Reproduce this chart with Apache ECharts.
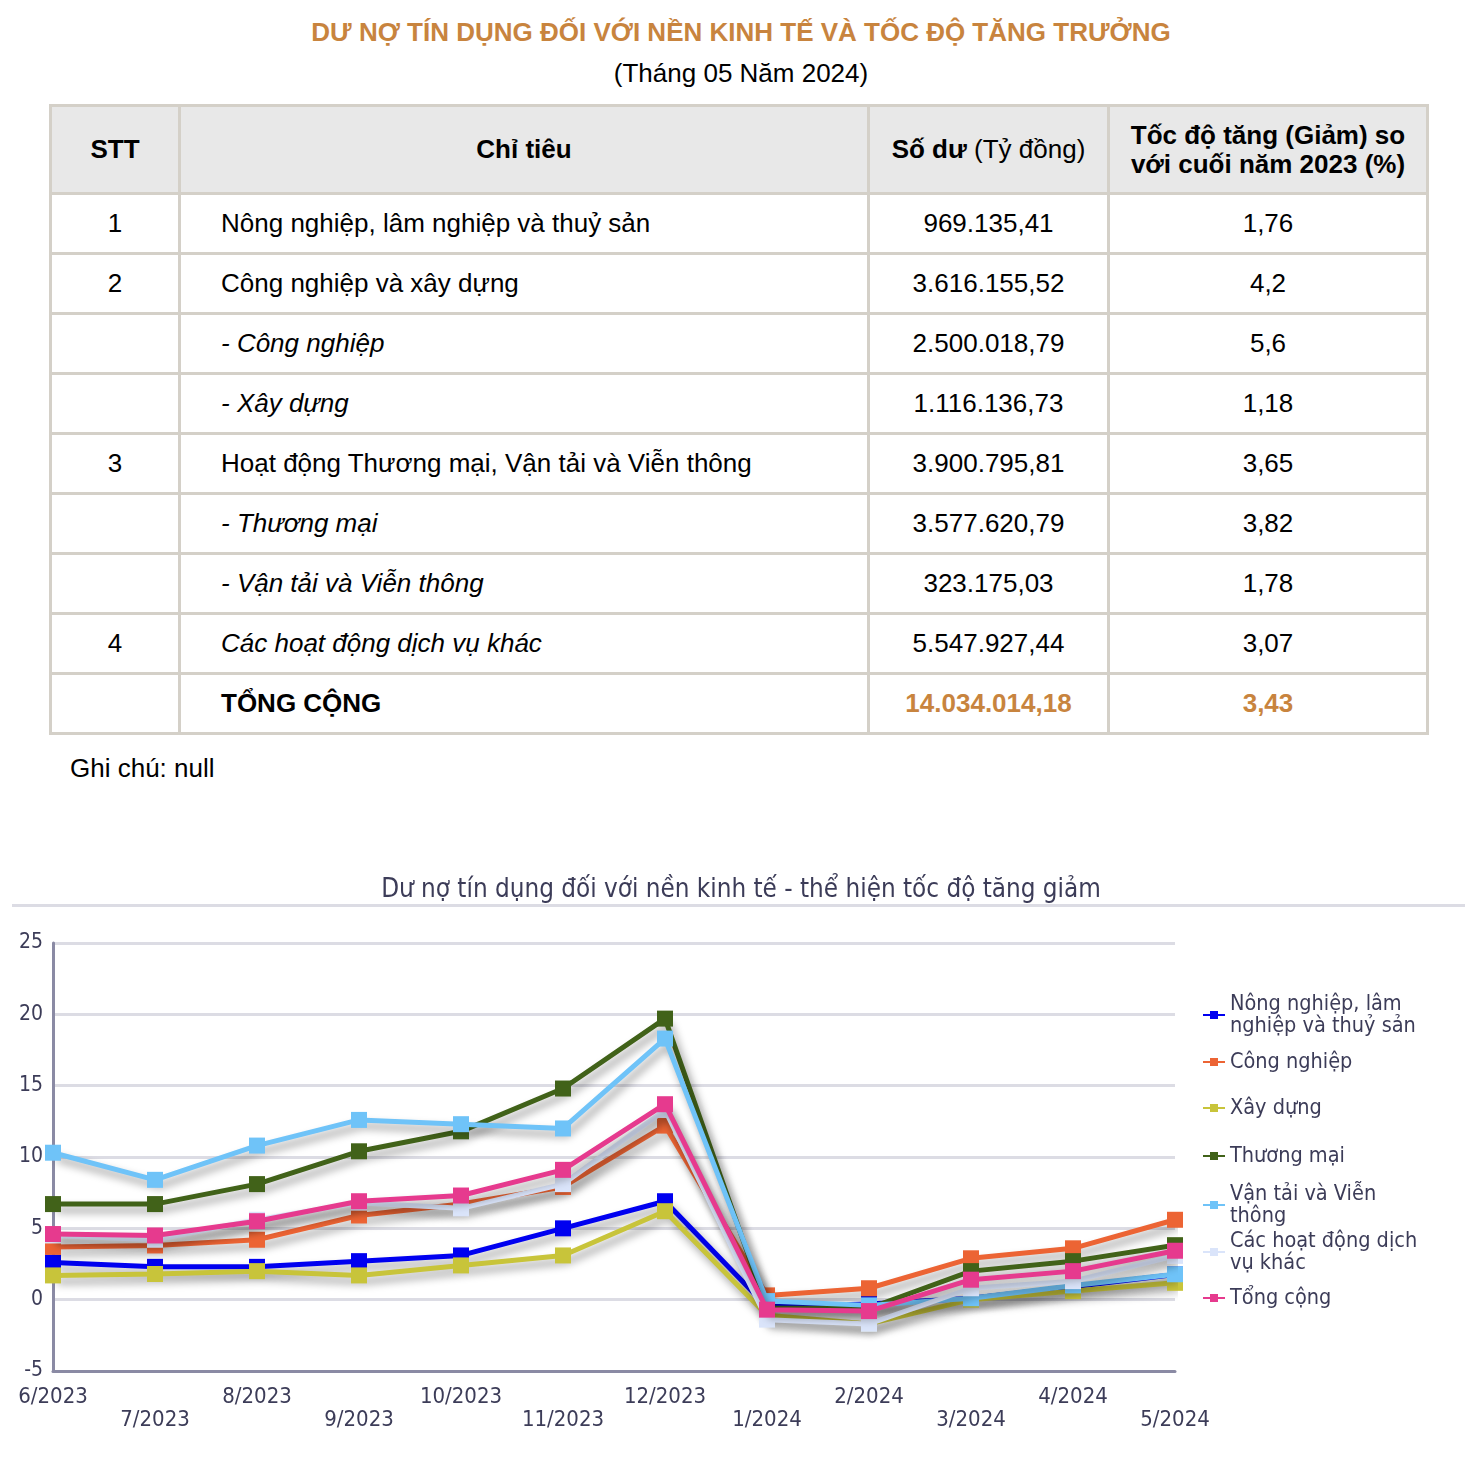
<!DOCTYPE html>
<html>
<head>
<meta charset="utf-8">
<script src="https://cdn.jsdelivr.net/npm/echarts@6/dist/echarts.min.js"></script>
<style>
  html, body { margin: 0; padding: 0; background: #fff; width: 1482px; height: 1474px; overflow: hidden; }
  body { position: relative; font-family: "Liberation Sans", Arial, sans-serif; color: #000; }
  #title { position: absolute; top: 16px; left: 0; width: 1482px; text-align: center; font-size: 26px; font-weight: bold; color: #c8843e; line-height: 32px; }
  #subtitle { position: absolute; top: 57px; left: 0; width: 1482px; text-align: center; font-size: 26px; line-height: 32px; }
  #tbl { position: absolute; top: 104px; left: 49px; border-collapse: collapse; font-size: 26px; }
  #tbl td { border: 3px solid #d4d0c8; padding: 0; }
  #tbl tr.hd td { background: #e8e8e8; font-weight: bold; height: 85px; text-align: center; line-height: 29px; }
  #tbl tr.rw td { height: 57px; }
  #tbl td.c0 { width: 126px; text-align: center; }
  #tbl td.c1 { width: 689px; text-align: left; padding-left: 40px; box-sizing: border-box; }
  #tbl tr.hd td.c1 { text-align: center; padding-left: 0; }
  #tbl td.c2 { width: 237px; text-align: center; }
  #tbl td.c3 { width: 316px; text-align: center; }
  #note { position: absolute; top: 753px; left: 70px; font-size: 26px; line-height: 30px; }
  #chart { position: absolute; top: 850px; left: 0; width: 1482px; height: 624px; }
</style>
</head>
<body>
<div id="title">DƯ NỢ TÍN DỤNG ĐỐI VỚI NỀN KINH TẾ VÀ TỐC ĐỘ TĂNG TRƯỞNG</div>
<div id="subtitle">(Tháng 05 Năm 2024)</div>
<table id="tbl"></table>
<div id="note">Ghi chú: null</div>
<div id="chart"></div>
<script>
// ---- Table data ----
const tableStt = ['1', '2', '', '', '3', '', '', '4', ''];
const tableChiTieu = ['Nông nghiệp, lâm nghiệp và thuỷ sản', 'Công nghiệp và xây dựng', '- Công nghiệp', '- Xây dựng',
  'Hoạt động Thương mại, Vận tải và Viễn thông', '- Thương mại', '- Vận tải và Viễn thông', 'Các hoạt động dịch vụ khác', 'TỔNG CỘNG'];
const tableSoDu = ['969.135,41', '3.616.155,52', '2.500.018,79', '1.116.136,73', '3.900.795,81', '3.577.620,79', '323.175,03', '5.547.927,44', '14.034.014,18'];
const tableTocDo = ['1,76', '4,2', '5,6', '1,18', '3,65', '3,82', '1,78', '3,07', '3,43'];
const tableItalic = [false, false, true, true, false, true, true, true, false];

// ---- Chart data ----
const months = ['6/2023', '7/2023', '8/2023', '9/2023', '10/2023', '11/2023', '12/2023', '1/2024', '2/2024', '3/2024', '4/2024', '5/2024'];
const seriesNames = ['Nông nghiệp, lâm nghiệp và thuỷ sản', 'Công nghiệp', 'Xây dựng', 'Thương mại', 'Vận tải và Viễn thông', 'Các hoạt động dịch vụ khác', 'Tổng cộng'];
const legendLabels = ['Nông nghiệp, lâm\nnghiệp và thuỷ sản', 'Công nghiệp', 'Xây dựng', 'Thương mại', 'Vận tải và Viễn\nthông', 'Các hoạt động dịch\nvụ khác', 'Tổng cộng'];
const nongNghiep = [2.6, 2.3, 2.3, 2.7, 3.1, 5.0, 6.9, -0.5, -0.3, 0.1, 0.9, 1.76];
const congNghiep = [3.7, 3.8, 4.2, 5.9, 6.7, 7.9, 12.2, 0.3, 0.8, 2.9, 3.6, 5.6];
const xayDung = [1.7, 1.8, 2.0, 1.7, 2.4, 3.1, 6.2, -1.1, -1.7, 0.0, 0.6, 1.18];
const thuongMai = [6.7, 6.7, 8.1, 10.4, 11.8, 14.8, 19.7, -0.6, -0.6, 2.0, 2.7, 3.82];
const vanTai = [10.3, 8.4, 10.8, 12.6, 12.3, 12.0, 18.3, -0.1, -0.4, 0.1, 1.0, 1.78];
const khac = [4.5, 4.2, 5.6, 6.8, 6.4, 8.1, 13.3, -1.4, -1.7, 0.8, 1.3, 3.07];
const tongCong = [4.6, 4.5, 5.5, 6.9, 7.3, 9.1, 13.7, -0.7, -0.8, 1.4, 2.0, 3.43];
const yTicks = { min: -5, max: 25, interval: 5 };

const colors = ['#0000f0', '#ec6434', '#c8c43a', '#416219', '#6fc3f8', '#dae4fa', '#e63a8e'];

// ---- Build table ----
const tbl = document.getElementById('tbl');
let html = '<tr class="hd"><td class="c0">STT</td><td class="c1">Chỉ tiêu</td>' +
  '<td class="c2">Số dư <span style="font-weight:normal">(Tỷ đồng)</span></td>' +
  '<td class="c3">Tốc độ tăng (Giảm) so<br>với cuối năm 2023 (%)</td></tr>';
for (let i = 0; i < tableChiTieu.length; i++) {
  const last = i === tableChiTieu.length - 1;
  const st1 = tableItalic[i] ? 'font-style:italic;' : '';
  const st2 = last ? 'font-weight:bold;' : '';
  const st3 = last ? 'font-weight:bold;color:#c8843e;' : '';
  html += '<tr class="rw"><td class="c0">' + tableStt[i] + '</td>' +
    '<td class="c1" style="' + st1 + st2 + '">' + tableChiTieu[i] + '</td>' +
    '<td class="c2" style="' + st3 + '">' + tableSoDu[i] + '</td>' +
    '<td class="c3" style="' + st3 + '">' + tableTocDo[i] + '</td></tr>';
}
tbl.innerHTML = html;

// ---- Chart ----
const chart = echarts.init(document.getElementById('chart'), null, { renderer: 'canvas' });
const FONT = '"DejaVu Sans Condensed", "DejaVu Sans", sans-serif';
const TXT = '#3c3c58';
const allData = [nongNghiep, congNghiep, xayDung, thuongMai, vanTai, khac, tongCong];
const legendCenters = [165, 212, 258, 306, 355, 402, 448];

const series = seriesNames.map((name, i) => ({
  name: name,
  type: 'line',
  data: allData[i],
  symbol: 'rect',
  symbolSize: 16,
  color: colors[i],
  itemStyle: { color: colors[i] },
  lineStyle: { width: 5, color: colors[i], shadowColor: 'rgba(0,0,0,0.4)', shadowBlur: 9, shadowOffsetX: 4, shadowOffsetY: 6 },
  z: 2 + i,
  animation: false
}));

const legends = seriesNames.map((name, i) => {
  const lines = legendLabels[i].split('\n').length;
  const h = lines * 22;
  return {
    data: [name],
    orient: 'vertical',
    left: 1202,
    top: legendCenters[i] - h / 2,
    padding: 0,
    itemWidth: 22,
    itemHeight: 10,
    formatter: () => legendLabels[i],
    textStyle: { fontFamily: FONT, fontSize: 21.5, lineHeight: 22, color: TXT },
    selectedMode: false
  };
});

chart.setOption({
  animation: false,
  title: {
    text: 'Dư nợ tín dụng đối với nền kinh tế - thể hiện tốc độ tăng giảm',
    left: 'center',
    top: 25,
    padding: 0,
    textStyle: { fontFamily: FONT, fontSize: 25.8, fontWeight: 'normal', color: TXT, lineHeight: 30 }
  },
  graphic: [{ type: 'rect', shape: { x: 12, y: 54, width: 1453, height: 3 }, style: { fill: '#dcdce4' }, silent: true }],
  legend: legends,
  grid: { left: 53, right: 307, top: 93, bottom: 103, containLabel: false },
  xAxis: {
    type: 'category',
    data: months,
    boundaryGap: false,
    axisLine: { onZero: false, lineStyle: { color: '#8a8aa4', width: 3 } },
    axisTick: { show: false },
    splitLine: { show: false },
    axisLabel: {
      interval: 0,
      margin: 15,
      fontFamily: FONT, fontSize: 22, lineHeight: 23, color: TXT,
      formatter: (v, idx) => (idx % 2 ? '\n' + v : v)
    }
  },
  yAxis: {
    type: 'value',
    min: yTicks.min, max: yTicks.max, interval: yTicks.interval,
    axisLine: { show: true, lineStyle: { color: '#8a8aa4', width: 3 } },
    axisTick: { show: false },
    splitLine: { lineStyle: { color: '#dcdce4', width: 3 } },
    axisLabel: { margin: 10, fontFamily: FONT, fontSize: 21, color: TXT }
  },
  series: series
});
</script>
</body>
</html>
